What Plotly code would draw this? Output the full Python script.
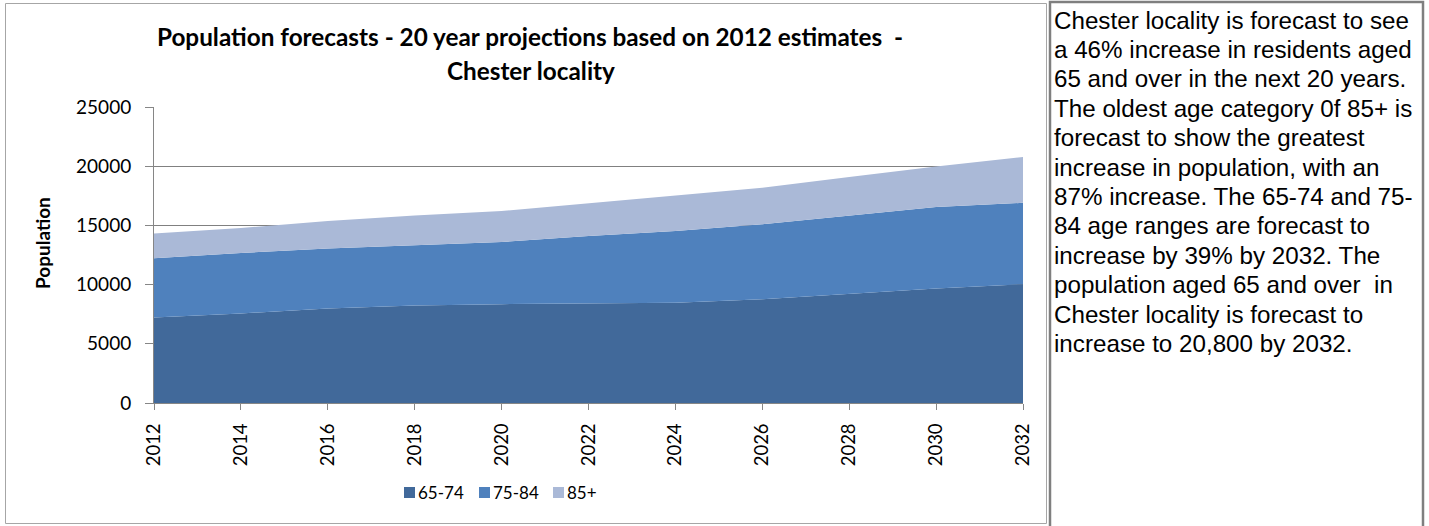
import plotly.graph_objects as go

# ---- data ----
years = [2012, 2014, 2016, 2018, 2020, 2022, 2024, 2026, 2028, 2030, 2032]
age_65_74 = [7230, 7560, 7990, 8240, 8350, 8400, 8460, 8770, 9250, 9670, 10030]
age_75_84 = [5000, 5110, 5050, 5060, 5250, 5710, 6070, 6320, 6600, 6880, 6880]
age_85_plus = [2080, 2110, 2330, 2530, 2610, 2750, 2980, 3100, 3230, 3430, 3860]
series_names = ["65-74", "75-84", "85+"]
series_colors = ["#41699A", "#4F81BD", "#AAB9D7"]

title_line1 = "Population forecasts - 20 year projections based on 2012 estimates  -"
title_line2 = "Chester locality"
y_title = "Population"
y_ticks = [0, 5000, 10000, 15000, 20000, 25000]
x_ticks = years

note_lines = [
    "Chester locality is forecast to see",
    "a 46% increase in residents aged",
    "65 and over in the next 20 years.",
    "The oldest age category 0f 85+ is",
    "forecast to show the greatest",
    "increase in population, with an",
    "87% increase. The 65-74 and 75-",
    "84 age ranges are forecast to",
    "increase by 39% by 2032. The",
    "population aged 65 and over  in",
    "Chester locality is forecast to",
    "increase to 20,800 by 2032.",
]

W, H = 1429, 526
L, R, T, B = 154, 1023, 107, 403  # plot area in pixels


def px(xpix):
    return (xpix - L) / (R - L)


def py(ypix):
    return (B - ypix) / (B - T)


FONT = "Lato, 'Open Sans', sans-serif"
TEXT_FONT = "'Liberation Sans', Arial, sans-serif"

fig = go.Figure()
for name, vals, col in zip(series_names, [age_65_74, age_75_84, age_85_plus], series_colors):
    fig.add_trace(go.Scatter(
        x=years, y=vals, name=name, stackgroup="pop", mode="lines",
        line=dict(width=0, color=col), fillcolor=col, showlegend=False,
    ))

fig.update_layout(
    width=W, height=H,
    margin=dict(l=L, r=W - R, t=T, b=H - B, autoexpand=False),
    paper_bgcolor="white", plot_bgcolor="white",
    font=dict(family=FONT, size=18, color="#000000"),
    title=dict(
        text="<b>" + title_line1 + "</b>",
        x=px(530), xref="paper", xanchor="center",
        y=1 - 37 / H, yref="container", yanchor="middle",
        font=dict(family=FONT, size=24.3, color="#000000"),
    ),
    showlegend=False,
    xaxis=dict(
        range=[2012, 2032], tickvals=x_ticks, ticktext=[str(v) for v in x_ticks],
        tickangle=-90, ticks="outside", ticklen=6, tickcolor="#868686",
        showline=True, linecolor="#868686", linewidth=1,
        showgrid=False, zeroline=False, ticklabelstandoff=6,
        tickfont=dict(family=FONT, size=18.5, color="#000000"),
        fixedrange=True,
    ),
    yaxis=dict(
        range=[0, 25000], tickvals=y_ticks, ticktext=[str(v) for v in y_ticks],
        ticks="outside", ticklen=8, tickcolor="#868686",
        showline=True, linecolor="#868686", linewidth=1,
        showgrid=True, gridcolor="#808080", gridwidth=1,
        zeroline=False, ticklabelstandoff=10,
        tickfont=dict(family=FONT, size=19, color="#000000"),
        fixedrange=True,
    ),
)

annotations = [
    dict(text="<b>" + title_line2 + "</b>", x=px(531), y=py(70), xref="paper", yref="paper",
         xanchor="center", yanchor="middle", showarrow=False,
         font=dict(family=FONT, size=24.3, color="#000000")),
    dict(text="<b>" + y_title + "</b>", x=px(42), y=py(243), xref="paper", yref="paper",
         xanchor="center", yanchor="middle", textangle=-90, showarrow=False,
         font=dict(family=FONT, size=19, color="#000000")),
]
for i, line in enumerate(note_lines):
    annotations.append(dict(
        text=line, x=px(1052), y=py(20 + 29.4 * i), xref="paper", yref="paper",
        xanchor="left", yanchor="middle", showarrow=False,
        font=dict(family=TEXT_FONT, size=24.2, color="#000000"),
    ))

# legend: square swatches followed by the series names
shapes = []
legend_x = [404, 479, 553]
for name, col, lx in zip(series_names, series_colors, legend_x):
    shapes.append(dict(type="rect", xref="paper", yref="paper",
                       x0=px(lx), x1=px(lx + 11), y0=py(498), y1=py(487),
                       line=dict(width=0), fillcolor=col))
    annotations.append(dict(text=name, x=px(lx + 12), y=py(492), xref="paper", yref="paper",
                            xanchor="left", yanchor="middle", showarrow=False,
                            font=dict(family=FONT, size=17, color="#000000")))
fig.update_layout(annotations=annotations)

shapes += [
    # chart frame
    dict(type="rect", xref="paper", yref="paper",
         x0=px(5.5), x1=px(1046.5), y0=py(523.5), y1=py(3.5),
         line=dict(color="#A6A6A6", width=1), fillcolor="rgba(0,0,0,0)", layer="below"),
    # text box frame
    dict(type="rect", xref="paper", yref="paper",
         x0=px(1050), x1=px(1423), y0=py(540), y1=py(2),
         line=dict(color="#7F7F7F", width=2.5), fillcolor="rgba(0,0,0,0)", layer="below"),
]
fig.update_layout(shapes=shapes)

fig.write_html("out.html", config={"displayModeBar": False},
               post_script="document.body.style.margin='0px';")
